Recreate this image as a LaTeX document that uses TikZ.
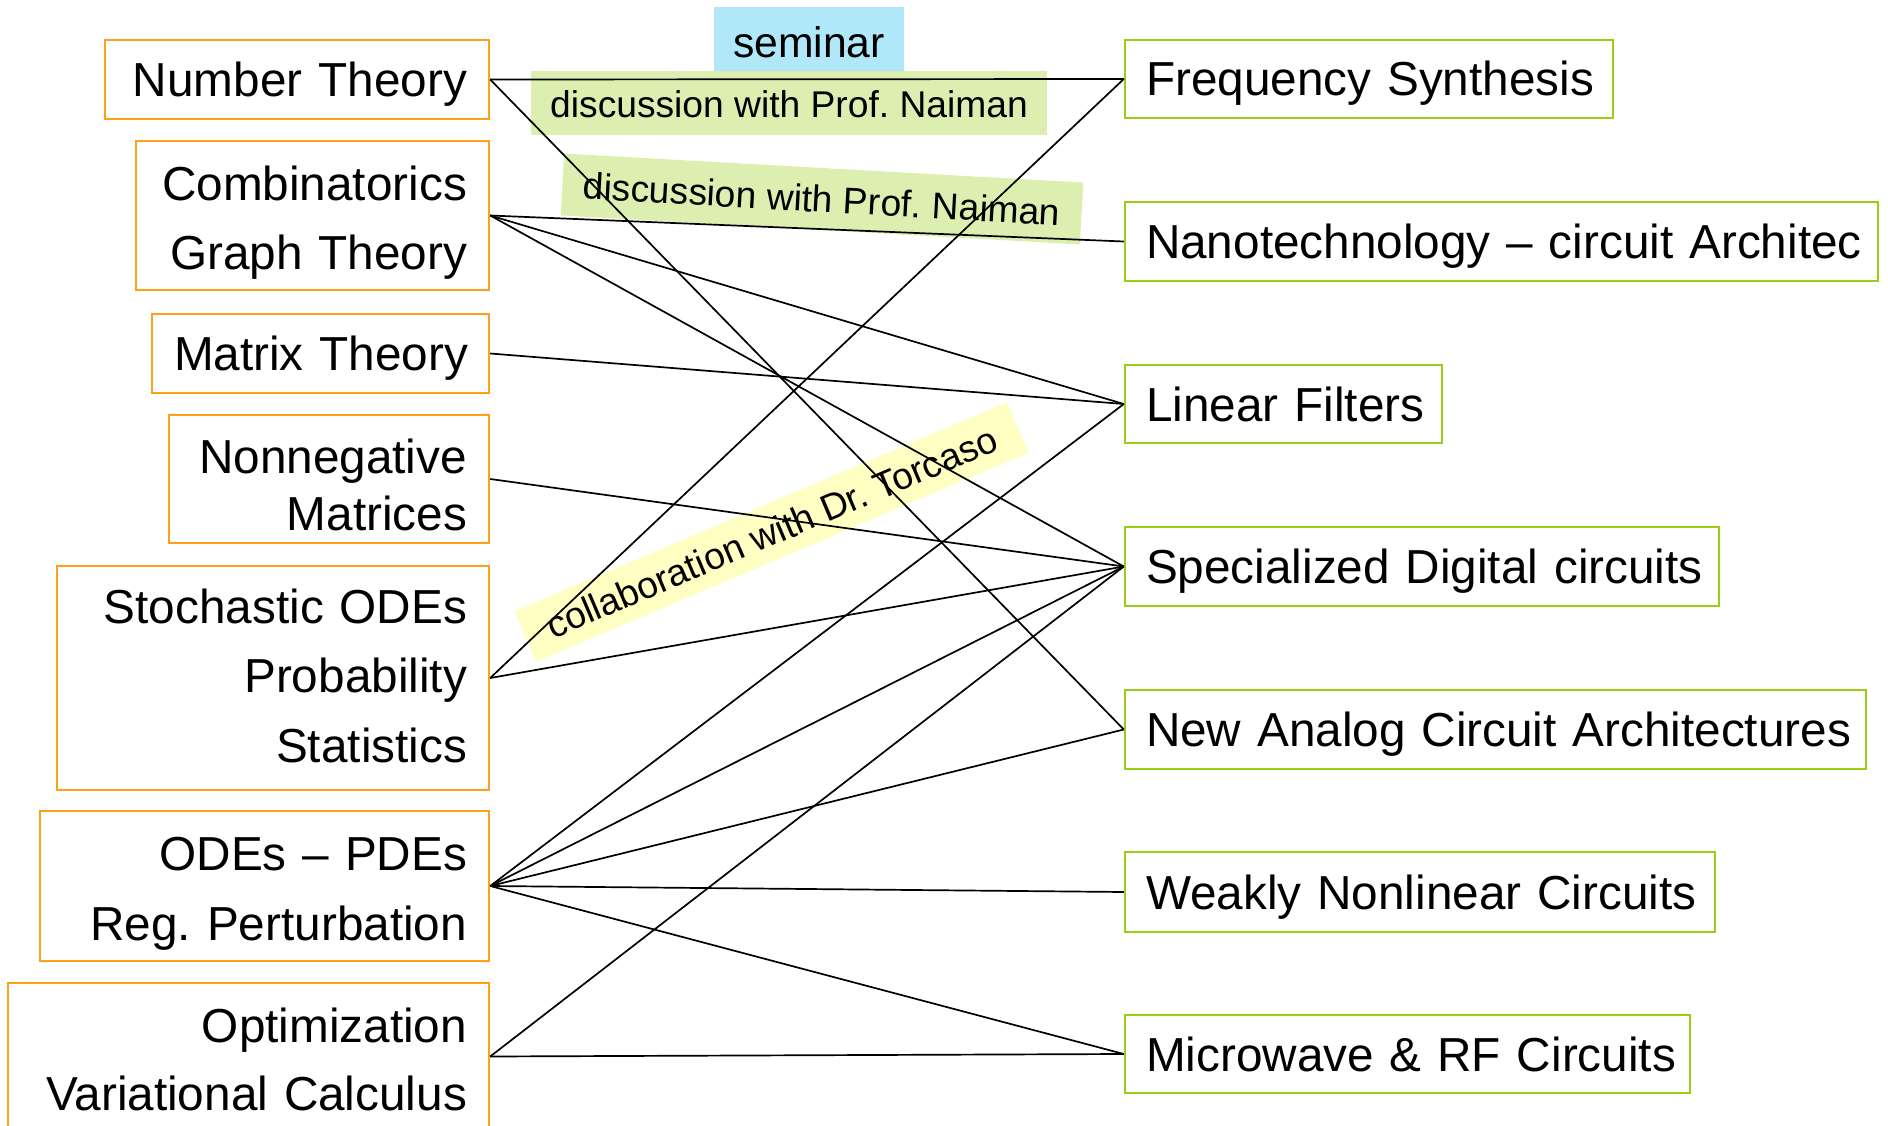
\documentclass[tikz,border=0pt]{standalone}
\usepackage{fontspec}
\setmainfont{Liberation Sans}
\frenchspacing
\definecolor{boxorange}{HTML}{FF9F1C}
\definecolor{boxgreen}{HTML}{9ACD14}
\definecolor{bgcyan}{HTML}{B0E8FA}
\definecolor{bggreen}{HTML}{DDEFB0}
\definecolor{bgyellow}{HTML}{FFFFC4}
\begin{document}
\begin{tikzpicture}[x=1pt,y=-1pt,
  lbox/.style={draw=boxorange, line width=2.4pt, rectangle, inner xsep=22pt, inner ysep=0pt,
    align=right, text height=34pt, text depth=0pt, font=\fontsize{47.7}{69.5}\selectfont},
  rbox/.style={draw=boxgreen, line width=2.4pt, rectangle, inner xsep=21pt, inner ysep=0pt,
    align=left, text height=34pt, text depth=0pt, font=\fontsize{47.7}{69.5}\selectfont},
  conn/.style={line width=1.7pt, black},
  tag/.style={inner sep=0pt, font=\fontsize{37.2}{44}\selectfont\frenchspacing}
]
\useasboundingbox (0,0) rectangle (1888,1126);
\clip (0,0) rectangle (1888,1126);

% left boxes
\node[lbox, minimum width=384pt, minimum height=79pt, text width=340pt] (nt) at (297,79.5) {\mbox{Number Theory}};
\node[lbox, minimum width=353pt, minimum height=149pt, text width=309pt, text height=39pt, text depth=69.5pt] (cg) at (312.5,215.5) {\mbox{Combinatorics}\\\mbox{Graph Theory}};
\node[lbox, minimum width=337pt, minimum height=79pt, text width=293pt] (mt) at (320.5,353.5) {\mbox{Matrix Theory}};
\node[lbox, minimum width=320pt, minimum height=128pt, text width=276pt, font=\fontsize{47.7}{57}\selectfont, text height=46pt, text depth=57pt] (nm) at (329,479) {\mbox{Nonnegative}\\\mbox{Matrices}};
\node[lbox, minimum width=432pt, minimum height=224pt, text width=388pt, text height=29pt, text depth=139pt] (sp) at (273,678) {\mbox{Stochastic ODEs}\\\mbox{Probability}\\\mbox{Statistics}};
\node[lbox, minimum width=449pt, minimum height=150pt, text width=405pt, text height=39pt, text depth=69.5pt] (op) at (264.5,886) {\mbox{ODEs – PDEs}\\\mbox{Reg. Perturbation}};
\node[lbox, minimum width=481pt, minimum height=147pt, text width=437pt, font=\fontsize{47.7}{68}\selectfont, text height=39pt, text depth=68pt] (ov) at (248.5,1056.5) {\mbox{Optimization}\\\mbox{Variational Calculus}};

% right boxes
\node[rbox, minimum width=488pt, minimum height=78pt, text width=446pt] (fs) at (1369,79) {\mbox{Frequency Synthesis}};
\node[rbox, minimum width=753pt, minimum height=79pt, text width=711pt] (nano) at (1501.5,241.5) {\mbox{Nanotechnology – circuit Architec}};
\node[rbox, minimum width=317pt, minimum height=78pt, text width=275pt] (lf) at (1283.5,404) {\mbox{Linear Filters}};
\node[rbox, minimum width=594pt, minimum height=79pt, text width=552pt] (sd) at (1422,566.5) {\mbox{Specialized Digital circuits}};
\node[rbox, minimum width=741pt, minimum height=79pt, text width=699pt] (na) at (1495.5,729.5) {\mbox{New Analog Circuit Architectures}};
\node[rbox, minimum width=590pt, minimum height=80pt, text width=548pt] (wn) at (1420,892) {\mbox{Weakly Nonlinear Circuits}};
\node[rbox, minimum width=565pt, minimum height=78pt, text width=523pt] (mw) at (1407.5,1054) {\mbox{Microwave \& RF Circuits}};

% labels
\node[tag, fill=bgcyan, minimum width=190pt, minimum height=66pt, font=\fontsize{42.7}{50}\selectfont, text height=36pt, text depth=0pt] (sem) at (809,40) {seminar};
\node[tag, fill=bggreen, minimum width=516pt, minimum height=64pt, text height=30pt, text depth=0pt] (d1) at (789,103) {discussion with Prof. Naiman};
\node[tag, fill=bggreen, minimum width=520pt, minimum height=62pt, rotate=-3.2] (d2) at (822,199) {discussion with Prof. Naiman};
\node[tag, fill=bgyellow, minimum width=535pt, minimum height=55pt, rotate=23] (col) at (771.5,532) {collaboration with Dr. Torcaso};

% connectors
\draw[conn] (nt.east) -- (fs.west);
\draw[conn] (nt.east) -- (na.west);
\draw[conn] (cg.east) -- (nano.west);
\draw[conn] (cg.east) -- (lf.west);
\draw[conn] (cg.east) -- (sd.west);
\draw[conn] (mt.east) -- (lf.west);
\draw[conn] (nm.east) -- (sd.west);
\draw[conn] (sp.east) -- (fs.west);
\draw[conn] (sp.east) -- (sd.west);
\draw[conn] (op.east) -- (lf.west);
\draw[conn] (op.east) -- (sd.west);
\draw[conn] (op.east) -- (na.west);
\draw[conn] (op.east) -- (wn.west);
\draw[conn] (op.east) -- (mw.west);
\draw[conn] (ov.east) -- (sd.west);
\draw[conn] (ov.east) -- (mw.west);
\end{tikzpicture}
\end{document}
